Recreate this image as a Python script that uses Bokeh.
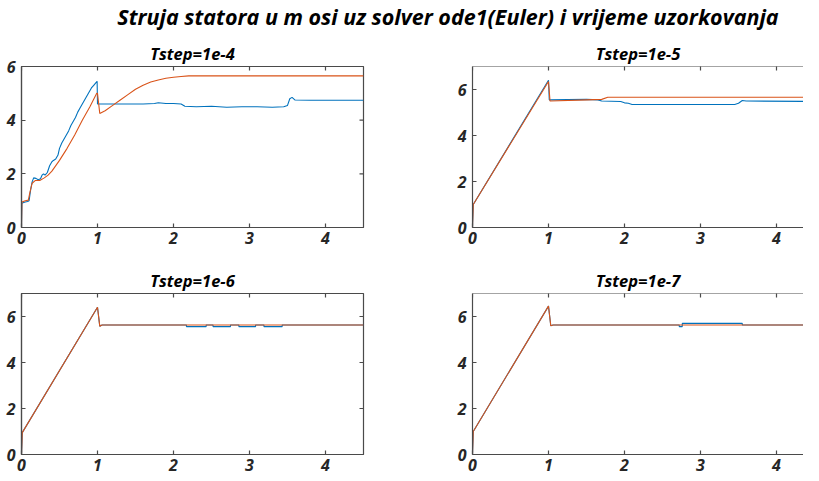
import math
from bokeh.plotting import figure
from bokeh.models import FixedTicker, Range1d, Div, Span
from bokeh.layouts import column, row
from bokeh.embed import file_html
from bokeh.resources import INLINE

MAIN_TITLE = "Struja statora u m osi uz solver ode1(Euler) i vrijeme uzorkovanja"
TITLES = ["Tstep=1e-4", "Tstep=1e-5", "Tstep=1e-6", "Tstep=1e-7"]
X_TICKS = [0, 1, 2, 3, 4]
Y_TICKS = [0, 2, 4, 6]

# Tstep = 1e-4
t1_blue = [0, 0.005, 0.02, 0.05, 0.08, 0.10, 0.12, 0.14, 0.16, 0.19, 0.22, 0.25, 0.27, 0.29,
           0.31, 0.34, 0.37, 0.40, 0.42, 0.45, 0.48, 0.50, 0.53, 0.56, 0.59, 0.62, 0.65, 0.68,
           0.71, 0.74, 0.77, 0.80, 0.83, 0.86, 0.89, 0.92, 0.95, 0.98, 0.995, 1.0, 1.2, 1.4,
           1.6, 1.75, 1.8, 1.9, 2.0, 2.1, 2.15, 2.3, 2.5, 2.7, 2.9, 3.1, 3.3, 3.45, 3.5, 3.53,
           3.56, 3.6, 3.8, 4.0, 4.2, 4.5]
v1_blue = [0, 0.9, 0.92, 0.95, 0.97, 1.0, 1.4, 1.7, 1.85, 1.83, 1.78, 1.82, 1.95, 2.0,
           1.95, 2.05, 2.3, 2.45, 2.5, 2.55, 2.7, 2.95, 3.15, 3.3, 3.45, 3.6, 3.8, 3.95,
           4.1, 4.3, 4.45, 4.6, 4.75, 4.9, 5.05, 5.2, 5.3, 5.4, 5.45, 4.6, 4.6, 4.6,
           4.6, 4.62, 4.65, 4.62, 4.62, 4.6, 4.52, 4.5, 4.52, 4.48, 4.5, 4.5, 4.48, 4.5, 4.55, 4.8,
           4.85, 4.75, 4.74, 4.74, 4.74, 4.74]
t1_orange = [0, 0.005, 0.05, 0.09, 0.11, 0.14, 0.18, 0.24, 0.3, 0.35, 0.4, 0.5, 0.6, 0.7,
             0.8, 0.9, 0.99, 1.0, 1.03, 1.1, 1.2, 1.3, 1.4, 1.5, 1.6, 1.7, 1.8, 1.9, 2.0,
             2.1, 2.2, 4.5]
v1_orange = [0, 0.95, 1.0, 1.02, 1.3, 1.65, 1.75, 1.75, 1.85, 1.95, 2.1, 2.5, 2.95, 3.45,
             4.0, 4.5, 5.0, 5.0, 4.25, 4.35, 4.55, 4.75, 4.95, 5.15, 5.3, 5.42, 5.5, 5.56, 5.6,
             5.63, 5.65, 5.65]

# Tstep = 1e-5
t2_blue = [0, 0.01, 1.0, 1.01, 1.5, 1.65, 1.7, 1.95, 2.0, 2.05, 2.1, 3.45, 3.5, 3.55, 3.6, 4.5]
v2_blue = [0, 1.0, 6.4, 5.55, 5.57, 5.55, 5.5, 5.48, 5.42, 5.4, 5.35, 5.35, 5.4, 5.52, 5.5, 5.48]
t2_orange = [0, 0.01, 1.0, 1.02, 1.5, 1.7, 1.78, 4.5]
v2_orange = [0, 1.0, 6.35, 5.5, 5.55, 5.57, 5.66, 5.66]

# Tstep = 1e-6
t3_blue = [0, 0.01, 1.0, 1.03, 1.06, 2.17, 2.17, 2.43, 2.43, 2.52, 2.52, 2.75, 2.75, 2.86,
           2.86, 3.08, 3.08, 3.19, 3.19, 3.43, 3.43, 4.5]
v3_blue = [0, 0.95, 6.4, 5.58, 5.63, 5.63, 5.56, 5.56, 5.63, 5.63, 5.56, 5.56, 5.63, 5.63,
           5.56, 5.56, 5.63, 5.63, 5.56, 5.56, 5.63, 5.63]
t3_orange = [0, 0.01, 1.0, 1.03, 1.06, 4.5]
v3_orange = [0, 0.95, 6.4, 5.58, 5.63, 5.63]

# Tstep = 1e-7
t4_blue = [0, 0.01, 1.0, 1.03, 1.06, 2.72, 2.72, 2.76, 2.76, 3.55, 3.55, 4.5]
v4_blue = [0, 1.0, 6.45, 5.6, 5.63, 5.63, 5.56, 5.56, 5.7, 5.7, 5.63, 5.63]
t4_orange = [0, 0.01, 1.0, 1.03, 1.06, 4.5]
v4_orange = [0, 1.0, 6.45, 5.6, 5.63, 5.63]

BLUE = "#0072BD"
ORANGE = "#D95319"
AX_COLOR = "#4a4a4a"
LABEL_COLOR = "#262626"
FONT = "Open Sans"


def style_axis(ax):
    ax.axis_line_color = AX_COLOR
    ax.axis_line_width = 1.2
    ax.major_tick_line_color = AX_COLOR
    ax.major_tick_line_width = 1.2
    ax.major_tick_in = 4
    ax.major_tick_out = 0
    ax.minor_tick_line_color = None
    ax.major_label_text_font = FONT
    ax.major_label_text_font_style = "bold italic"
    ax.major_label_text_color = LABEL_COLOR
    ax.major_label_text_font_size = "16px"


def make_fig(title, width, height, x_end, y_end, mbl, mbr, mbt, mbb, full_box,
             tb, vb, to, vo):
    p = figure(width=width, height=height, x_range=Range1d(0, x_end),
               y_range=Range1d(0, y_end), output_backend="svg", toolbar_location=None,
               min_border_left=mbl, min_border_right=mbr, min_border_top=mbt,
               min_border_bottom=mbb)
    p.title.text = title
    p.title.align = "center"
    p.title.text_font = FONT
    p.title.text_font_style = "bold italic"
    p.title.text_font_size = "16.5px"
    p.title.text_color = "#000000"
    p.title.standoff = 4
    p.grid.visible = False
    p.background_fill_color = "white"
    p.border_fill_color = "white"

    p.xaxis.ticker = FixedTicker(ticks=X_TICKS)
    p.yaxis.ticker = FixedTicker(ticks=Y_TICKS)
    for ax in p.xaxis:
        style_axis(ax)
        ax.major_label_standoff = 4
    for ax in p.yaxis:
        style_axis(ax)
        ax.major_label_standoff = 6

    if full_box:
        p.outline_line_color = AX_COLOR
        p.outline_line_width = 1.2
        # inward ticks on the right edge
        p.scatter([x_end] * len(Y_TICKS), Y_TICKS, marker="dash", size=8,
                  line_color=AX_COLOR, line_width=1.2)
    else:
        p.outline_line_color = None
        p.add_layout(Span(location=y_end, dimension="width", line_color=AX_COLOR,
                          line_width=1.2))

    p.line(tb, vb, line_color=BLUE, line_width=1.1)
    p.line(to, vo, line_color=ORANGE, line_width=1.1)

    # inward ticks on the top edge
    p.scatter(X_TICKS, [y_end] * len(X_TICKS), marker="dash", angle=math.pi / 2, size=8,
              line_color=AX_COLOR, line_width=1.2)
    return p


X_SCALE = 342 / 4.5
right_end = 331 / X_SCALE

f1 = make_fig(TITLES[0], 451, 227, 4.5, 6, 21, 88, 30, 36, True,
              t1_blue, v1_blue, t1_orange, v1_orange)
f2 = make_fig(TITLES[1], 352, 227, right_end, 7, 21, 0, 30, 36, False,
              t2_blue, v2_blue, t2_orange, v2_orange)
f3 = make_fig(TITLES[2], 451, 212, 4.5, 7, 21, 88, 30, 21, True,
              t3_blue, v3_blue, t3_orange, v3_orange)
f4 = make_fig(TITLES[3], 352, 212, right_end, 7, 21, 0, 30, 21, False,
              t4_blue, v4_blue, t4_orange, v4_orange)

title_div = Div(
    text=('<div style="display: block; box-sizing: border-box; width: 803px; '
          'font-family: \'Open Sans\'; font-weight: bold; font-style: italic; '
          'font-size: 21.5px; color: #000; text-align: center; padding-left: 83px; '
          'line-height: 24px; white-space: nowrap;">' + MAIN_TITLE + '</div>'),
    width=803, height=26)

layout = column(title_div, row(f1, f2), row(f3, f4))

open("out.html", "w").write(file_html(layout, INLINE))
